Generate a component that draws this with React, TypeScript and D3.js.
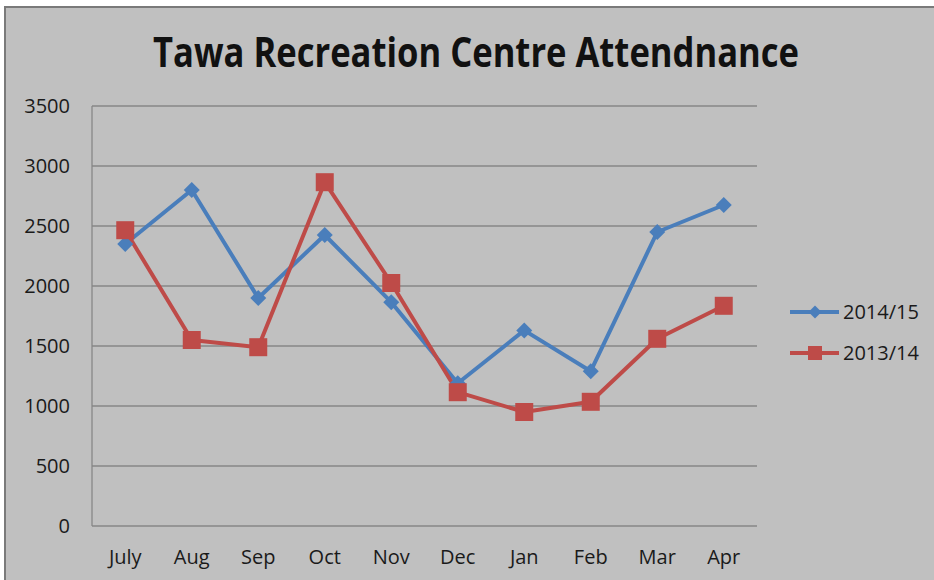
import React from "react";
import * as d3 from "d3";

const months = ["July", "Aug", "Sep", "Oct", "Nov", "Dec", "Jan", "Feb", "Mar", "Apr"];
const series2014 = [2350, 2800, 1900, 2425, 1865, 1190, 1630, 1290, 2450, 2675];
const series2013 = [2465, 1550, 1490, 2865, 2025, 1115, 950, 1035, 1560, 1835];
const yTicks = [0, 500, 1000, 1500, 2000, 2500, 3000, 3500];
const seriesNames = ["2014/15", "2013/14"];

const W = 934;
const H = 580;
const plot = { left: 92, right: 757, top: 106, bottom: 526 };
const BLUE = "#4A7EBB";
const RED = "#BE4B48";
const FONT = "'Open Sans', 'Noto Sans', sans-serif";

export default function App() {
  const x = d3.scaleBand<string>().domain(months).range([plot.left, plot.right]);
  const y = d3.scaleLinear().domain([0, 3500]).range([plot.bottom, plot.top]);
  const cx = (m: string) => (x(m) as number) + x.bandwidth() / 2;
  const line = d3
    .line<number>()
    .x((_, i) => cx(months[i]))
    .y((v) => y(v));

  const diamond = (px: number, py: number, r: number) =>
    `M${px},${py - r}L${px + r},${py}L${px},${py + r}L${px - r},${py}Z`;

  const legendY = [312, 353];

  return (
    <div style={{ position: "absolute", left: 0, top: 0 }}>
      <svg width={W} height={H} style={{ display: "block" }}>
        <rect x={0} y={0} width={W} height={H} fill="#ffffff" />
        <rect x={5} y={7} width={W + 20} height={H + 20} fill="#C0C0C0" stroke="#7a7a7a" strokeWidth={2} />
        <text
          x={476}
          y={67}
          textAnchor="middle"
          fontFamily={FONT}
          fontWeight="bold"
          fontSize={41}
          fill="#111"
          textLength={646}
          lengthAdjust="spacingAndGlyphs"
        >
          Tawa Recreation Centre Attendnance
        </text>
        {yTicks.map((t) => (
          <g key={t}>
            <line x1={plot.left} x2={plot.right} y1={y(t)} y2={y(t)} stroke="#878787" strokeWidth={1.3} />
            <text
              x={70}
              y={y(t)}
              dy="0.35em"
              textAnchor="end"
              fontFamily={FONT}
              fontSize={20}
              fill="#1a1a1a"
            >
              {t}
            </text>
          </g>
        ))}
        <line x1={plot.left} x2={plot.left} y1={plot.top} y2={plot.bottom} stroke="#878787" strokeWidth={1.3} />
        {months.map((m) => (
          <text
            key={m}
            x={cx(m)}
            y={557}
            dy="0.35em"
            textAnchor="middle"
            fontFamily={FONT}
            fontSize={20}
            fill="#1a1a1a"
          >
            {m}
          </text>
        ))}
        <path d={line(series2014) || ""} fill="none" stroke={BLUE} strokeWidth={4} strokeLinejoin="round" />
        <path d={line(series2013) || ""} fill="none" stroke={RED} strokeWidth={4} strokeLinejoin="round" />
        {series2014.map((v, i) => (
          <path key={"b" + i} d={diamond(cx(months[i]), y(v), 8)} fill={BLUE} />
        ))}
        {series2013.map((v, i) => (
          <rect key={"r" + i} x={cx(months[i]) - 9} y={y(v) - 9} width={18} height={18} fill={RED} />
        ))}
        {seriesNames.map((n, i) => (
          <g key={n}>
            <line x1={790} x2={839} y1={legendY[i]} y2={legendY[i]} stroke={i === 0 ? BLUE : RED} strokeWidth={4} />
            {i === 0 ? (
              <path d={diamond(815, legendY[i], 6.5)} fill={BLUE} />
            ) : (
              <rect x={808} y={legendY[i] - 7} width={14} height={14} fill={RED} />
            )}
            <text x={843} y={legendY[i]} dy="0.35em" fontFamily={FONT} fontSize={20} fill="#1a1a1a">
              {n}
            </text>
          </g>
        ))}
      </svg>
    </div>
  );
}
